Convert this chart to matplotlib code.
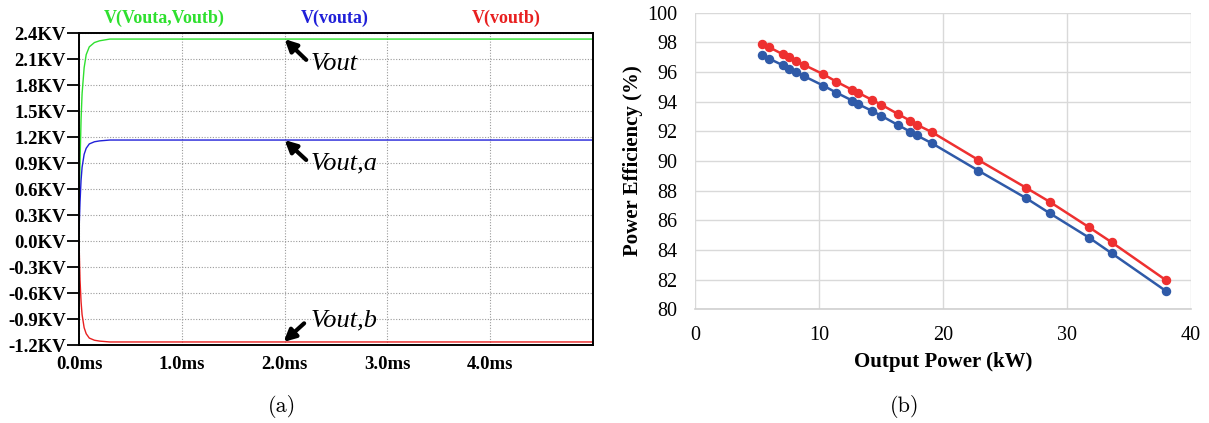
import matplotlib
matplotlib.use("Agg")
import matplotlib.pyplot as plt
from matplotlib.ticker import FixedLocator

# ---------------- data: (a) LTspice transient ----------------
t_ms = [0.0, 0.01, 0.02, 0.03, 0.05, 0.07, 0.10, 0.15, 0.20, 0.25, 0.30, 0.40, 5.0]
v_out = [0.30, 0.90, 1.40, 1.70, 2.00, 2.15, 2.24, 2.29, 2.31, 2.32, 2.33, 2.33, 2.33]
v_outa = [0.10, 0.45, 0.70, 0.85, 1.00, 1.07, 1.12, 1.145, 1.155, 1.16, 1.165, 1.165, 1.165]
v_outb = [0.00, -0.45, -0.70, -0.85, -1.00, -1.07, -1.12, -1.145, -1.155, -1.16, -1.165, -1.165, -1.165]
trace_names = ["V(Vouta,Voutb)", "V(vouta)", "V(voutb)"]
y_ticks_a = [2.4, 2.1, 1.8, 1.5, 1.2, 0.9, 0.6, 0.3, 0.0, -0.3, -0.6, -0.9, -1.2]
x_ticks_a = [0.0, 1.0, 2.0, 3.0, 4.0]

# ---------------- data: (b) efficiency ----------------
p_kw = [5.37, 5.98, 7.10, 7.59, 8.18, 8.77, 10.35, 11.40, 12.69, 13.14, 14.30,
        15.02, 16.36, 17.35, 17.88, 19.12, 22.85, 26.69, 28.62, 31.78, 33.60, 37.95]
eff_red = [97.89, 97.67, 97.19, 96.99, 96.76, 96.49, 95.85, 95.35, 94.79, 94.61, 94.11,
           93.80, 93.17, 92.72, 92.45, 91.94, 90.07, 88.20, 87.24, 85.53, 84.52, 81.98]
eff_blue = [97.13, 96.90, 96.45, 96.22, 95.98, 95.73, 95.08, 94.61, 94.07, 93.84, 93.37,
            93.05, 92.43, 91.98, 91.73, 91.19, 89.35, 87.50, 86.47, 84.83, 83.78, 81.25]

W, H = 1209, 423
fig = plt.figure(figsize=(W / 100, H / 100), dpi=100)
fig.patch.set_facecolor("white")

SERIF = ["Liberation Serif", "DejaVu Serif"]

# ---------------- (a) ----------------
axa = fig.add_axes([79 / W, 1 - 345 / H, (593 - 79) / W, (345 - 33) / H])
green, blue, red = "#2fe02f", "#2020d8", "#e82020"
axa.plot(t_ms, v_out, color=green, lw=1.0)
axa.plot(t_ms, v_outa, color=blue, lw=1.0)
axa.plot(t_ms, v_outb, color=red, lw=1.0)
axa.set_xlim(0, 5.0)
axa.set_ylim(-1.2, 2.4)
axa.yaxis.set_major_locator(FixedLocator(y_ticks_a))
axa.xaxis.set_major_locator(FixedLocator(x_ticks_a))
axa.set_yticklabels([f"{v:.1f}KV" for v in y_ticks_a])
axa.set_xticklabels([f"{v:.1f}ms" for v in x_ticks_a])
for lab in axa.get_yticklabels() + axa.get_xticklabels():
    lab.set_family(SERIF)
    lab.set_fontweight("bold")
    lab.set_fontsize(13.5)
axa.tick_params(axis="y", direction="out", length=9, width=1.3, pad=0.5, color="black")
axa.tick_params(axis="x", direction="out", length=0, pad=8)
axa.grid(True, color="#9a9a9a", linestyle=(0, (1, 1.5)), lw=0.8)
for s in axa.spines.values():
    s.set_color("black")
    s.set_linewidth(1.4)

title_x = [164, 335, 506]
for name, col, xp in zip(trace_names, [green, blue, red], title_x):
    fig.text(xp / W, 1 - 18 / H, name, color=col, fontsize=13, fontweight="bold",
             family=SERIF, ha="center", va="center")

arrow_kw = dict(arrowstyle="-|>,head_length=0.7,head_width=0.35", lw=3.0, color="black",
                shrinkA=0, shrinkB=0)
# Vout
axa.annotate("", xy=(2.0, 2.33), xytext=(2.21, 2.09), arrowprops=arrow_kw)
axa.text(2.25, 2.04, "Vout", fontsize=19, style="italic", family=SERIF, va="center", ha="left")
# Vout,a
axa.annotate("", xy=(2.0, 1.165), xytext=(2.21, 0.935), arrowprops=arrow_kw)
axa.text(2.25, 0.89, "Vout,a", fontsize=19, style="italic", family=SERIF, va="center", ha="left")
# Vout,b
axa.annotate("", xy=(1.99, -1.165), xytext=(2.19, -0.95), arrowprops=arrow_kw)
axa.text(2.25, -0.92, "Vout,b", fontsize=19, style="italic", family=SERIF, va="center", ha="left")

fig.text(282 / W, 1 - 406 / H, "(a)", fontsize=16, family=["cmr10", "DejaVu Serif"],
         ha="center", va="center")

# ---------------- (b) ----------------
axb = fig.add_axes([695 / W, 1 - 309.3 / H, (1191 - 695) / W, (309.3 - 12.7) / H])
c_red, c_blue = "#ee3030", "#2f5aa8"
axb.plot(p_kw, eff_red, color=c_red, lw=1.8, marker="o", ms=5.8, zorder=3)
axb.plot(p_kw, eff_blue, color=c_blue, lw=1.8, marker="o", ms=5.8, zorder=3)
axb.set_xlim(0, 40)
axb.set_ylim(80, 100)
axb.set_xticks([0, 10, 20, 30, 40])
axb.set_yticks(list(range(80, 101, 2)))
axb.grid(True, color="#d9d9d9", lw=1.0)
axb.set_axisbelow(True)
for k, s in axb.spines.items():
    s.set_visible(k == "bottom")
axb.spines["bottom"].set_color("#d0d0d0")
axb.spines["bottom"].set_linewidth(1.2)
axb.tick_params(length=0, labelsize=14.5, pad=12.5)
axb.tick_params(axis="x", pad=12)
for lab in axb.get_yticklabels() + axb.get_xticklabels():
    lab.set_family(SERIF)
axb.set_xlabel("Output Power (kW)", fontsize=15, fontweight="bold", family=SERIF, labelpad=5)
axb.set_ylabel("Power Efficiency (%)", fontsize=15, fontweight="bold", family=SERIF, labelpad=3)

fig.text(905 / W, 1 - 406 / H, "(b)", fontsize=16, family=["cmr10", "DejaVu Serif"],
         ha="center", va="center")

fig.savefig("out.png", dpi=100, facecolor="white")
